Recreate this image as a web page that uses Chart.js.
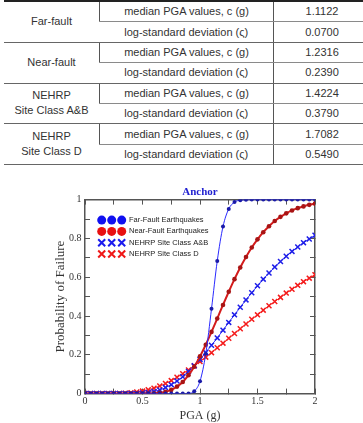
<!DOCTYPE html>
<html lang="en">
<head>
    <meta charset="UTF-8">
    <title>Anchor fragility curves</title>
    <script src="https://cdn.jsdelivr.net/npm/chart.js@4.4.1/dist/chart.umd.min.js"></script>
    <style>
        body {
            margin: 0;
            width: 363px;
            height: 423px;
            overflow: hidden;
            background: #fff;
            position: relative;
            font-family: 'Liberation Sans', Arial, sans-serif;
        }
        .top-rule {
            position: absolute;
            left: 4px;
            top: 0;
            width: 366px;
            height: 2px;
            background: #222;
            z-index: 5;
        }
        .params {
            position: absolute;
            left: 4px;
            top: 2px;
            width: 366px;
            border-collapse: collapse;
            table-layout: fixed;
            font-size: 11px;
            color: #333;
        }
        .params td {
            padding: 0;
            height: 19.4px;
            text-align: center;
            border-bottom: 1px solid #8a8a8a;
            line-height: 15px;
        }
        .params td + td { border-left: 1px solid #555; }
        .params tr:last-child td, .params td.grp { border-bottom-color: #666; }
        .chart-box {
            position: absolute;
            left: 0;
            top: 183px;
            width: 363px;
            height: 240px;
        }
    </style>
</head>
<body>
    <div class="top-rule"></div>
    <table class="params" id="params">
        <colgroup><col style="width:95.5px"><col style="width:174px"><col></colgroup>
        <tbody></tbody>
    </table>

    <div class="chart-box">
        <canvas id="fragility"></canvas>
    </div>

    <script>
        // table values
        const groups = ['Far-fault', 'Near-fault', 'NEHRP<br>Site Class A&amp;B', 'NEHRP<br>Site Class D'];
        const paramNames = ['median PGA values, c (g)', 'log-standard deviation (\u03c2)'];
        const medians = ['1.1122', '1.2316', '1.4224', '1.7082'];
        const logStd = ['0.0700', '0.2390', '0.3790', '0.5490'];

        // chart values
        const pga = [0, 0.05, 0.1, 0.15, 0.2, 0.25, 0.3, 0.35, 0.4, 0.45, 0.5, 0.55, 0.6, 0.65, 0.7, 0.75, 0.8, 0.85, 0.9, 0.95,
                     1, 1.05, 1.1, 1.15, 1.2, 1.25, 1.3, 1.35, 1.4, 1.45, 1.5, 1.55, 1.6, 1.65, 1.7, 1.75, 1.8, 1.85, 1.9, 1.95, 2];
        const farFault = [0, 0, 0, 0, 0, 0, 0, 0, 0, 0, 0, 0, 0, 0, 0, 0, 0, 0,
                          0.001, 0.012, 0.064, 0.205, 0.437, 0.684, 0.861, 0.952, 0.987, 0.997, 0.999,
                          1, 1, 1, 1, 1, 1, 1, 1, 1, 1, 1, 1];
        const nearFault = [0, 0, 0, 0, 0, 0, 0, 0, 0, 0, 0, 0,
                           0.001, 0.004, 0.009, 0.019, 0.036, 0.060, 0.095, 0.139, 0.192, 0.252, 0.318, 0.387, 0.457,
                           0.525, 0.590, 0.650, 0.704, 0.753, 0.795, 0.832, 0.863, 0.890, 0.911, 0.929, 0.944, 0.956,
                           0.965, 0.973, 0.979];
        const siteAB = [0, 0, 0, 0, 0, 0, 0, 0, 0,
                        0.001, 0.003, 0.006, 0.011, 0.019, 0.031, 0.046, 0.065, 0.087, 0.114, 0.143, 0.176, 0.212,
                        0.249, 0.287, 0.327, 0.367, 0.406, 0.445, 0.483, 0.520, 0.556, 0.590, 0.622, 0.652, 0.681,
                        0.708, 0.733, 0.756, 0.778, 0.797, 0.816];
        const siteD = [0, 0, 0, 0, 0, 0,
                       0.001, 0.002, 0.004, 0.008, 0.013, 0.020, 0.028, 0.039, 0.052, 0.067, 0.084, 0.102, 0.122,
                       0.143, 0.165, 0.188, 0.211, 0.236, 0.260, 0.285, 0.310, 0.334, 0.359, 0.383, 0.406, 0.430,
                       0.453, 0.475, 0.496, 0.518, 0.538, 0.558, 0.577, 0.595, 0.613];
        const seriesLabels = ['Far-Fault Earthquakes', 'Near-Fault Earthquakes', 'NEHRP Site Class A&B', 'NEHRP Site Class D'];

        // build the parameter table
        const body = document.querySelector('#params tbody');
        groups.forEach((g, i) => {
            body.insertAdjacentHTML('beforeend',
                `<tr><td rowspan="2" class="grp">${g}</td><td>${paramNames[0]}</td><td>${medians[i]}</td></tr>` +
                `<tr><td class="grp">${paramNames[1]}</td><td class="grp">${logStd[i]}</td></tr>`);
        });

        const serif = "'Liberation Serif', 'Times New Roman', serif";
        const sans = "'Liberation Sans', Arial, sans-serif";
        const toPoints = ys => ys.map((y, i) => ({ x: pga[i], y: y }));

        // legend drawn inside the plot, top left
        const insideLegend = {
            id: 'insideLegend',
            afterDatasetsDraw(chart) {
                const { ctx, chartArea } = chart;
                ctx.save();
                chart.data.datasets.forEach((ds, i) => {
                    const y = chartArea.top + 20.5 + i * 11.3;
                    for (let k = 0; k < 3; k++) {
                        const cx = chartArea.left + 16.7 + k * 10;
                        if (ds.pointStyle === 'circle') {
                            ctx.fillStyle = ds.legendColor;
                            ctx.beginPath();
                            ctx.arc(cx, y, 4.5, 0, Math.PI * 2);
                            ctx.fill();
                        } else {
                            ctx.strokeStyle = ds.legendColor;
                            ctx.lineWidth = 2;
                            ctx.beginPath();
                            ctx.moveTo(cx - 3.5, y - 3.5); ctx.lineTo(cx + 3.5, y + 3.5);
                            ctx.moveTo(cx - 3.5, y + 3.5); ctx.lineTo(cx + 3.5, y - 3.5);
                            ctx.stroke();
                        }
                    }
                    ctx.fillStyle = '#222';
                    ctx.font = `7.5px ${sans}`;
                    ctx.textBaseline = 'middle';
                    ctx.fillText(ds.label, chartArea.left + 44, y);
                });
                ctx.restore();
            }
        };

        const frameGrid = { drawOnChartArea: false, drawTicks: true, tickLength: -5, color: '#555', lineWidth: 1 };
        const frameBorder = { display: true, color: '#555', width: 1.5 };

        new Chart(document.getElementById('fragility'), {
            type: 'line',
            data: {
                datasets: [
                    {
                        label: seriesLabels[0],
                        data: toPoints(farFault),
                        borderColor: '#2a2aff',
                        borderWidth: 1,
                        pointStyle: 'circle',
                        pointRadius: 2,
                        pointBackgroundColor: '#1a1aa8',
                        pointBorderWidth: 0,
                        legendColor: '#1010f0',
                        cubicInterpolationMode: 'monotone'
                    },
                    {
                        label: seriesLabels[1],
                        data: toPoints(nearFault),
                        borderColor: '#d41c1c',
                        borderWidth: 2,
                        pointStyle: 'circle',
                        pointRadius: 2.3,
                        pointBackgroundColor: '#a81414',
                        pointBorderWidth: 0,
                        legendColor: '#e81010',
                        cubicInterpolationMode: 'monotone'
                    },
                    {
                        label: seriesLabels[2],
                        data: toPoints(siteAB),
                        borderColor: '#3a3aff',
                        borderWidth: 1,
                        pointStyle: 'crossRot',
                        pointRadius: 3.5,
                        pointBorderColor: '#1e1ee8',
                        pointBorderWidth: 1.5,
                        legendColor: '#1a1aee',
                        cubicInterpolationMode: 'monotone'
                    },
                    {
                        label: seriesLabels[3],
                        data: toPoints(siteD),
                        borderColor: '#ff3030',
                        borderWidth: 1,
                        pointStyle: 'crossRot',
                        pointRadius: 3.5,
                        pointBorderColor: '#f41c1c',
                        pointBorderWidth: 1.5,
                        legendColor: '#f01818',
                        cubicInterpolationMode: 'monotone'
                    }
                ]
            },
            options: {
                responsive: true,
                maintainAspectRatio: false,
                animation: false,
                layout: { padding: { left: 0, right: 48, top: 0, bottom: 0 } },
                plugins: {
                    legend: { display: false },
                    tooltip: { enabled: false },
                    title: {
                        display: true,
                        text: 'Anchor',
                        color: '#1f1fd0',
                        fullSize: false,
                        font: { family: serif, size: 11, weight: 'bold' },
                        padding: { top: 2.1, bottom: 1.3 }
                    }
                },
                scales: {
                    x: {
                        type: 'linear',
                        position: 'bottom',
                        min: 0, max: 2,
                        grid: frameGrid,
                        border: frameBorder,
                        ticks: {
                            stepSize: 0.25,
                            autoSkip: false,
                            maxRotation: 0,
                            padding: 7,
                            color: '#333',
                            font: { family: serif, size: 10 },
                            callback: v => Math.round(v * 4) % 2 === 0 ? String(Math.round(v * 100) / 100) : ''
                        },
                        title: {
                            display: true,
                            text: 'PGA (g)',
                            color: '#333',
                            font: { family: serif, size: 12 },
                            padding: { top: 0, bottom: 0 }
                        },
                        afterFit: s => { s.height = 29.4; }
                    },
                    y: {
                        type: 'linear',
                        position: 'left',
                        min: 0, max: 1,
                        grid: frameGrid,
                        border: frameBorder,
                        ticks: {
                            stepSize: 0.1,
                            autoSkip: false,
                            padding: 8.5,
                            color: '#333',
                            font: { family: serif, size: 10 },
                            callback: v => Math.round(v * 10) % 2 === 0 ? String(Math.round(v * 10) / 10) : ''
                        },
                        title: {
                            display: true,
                            text: 'Probability of Failure',
                            color: '#333',
                            font: { family: serif, size: 13 },
                            padding: { top: 53, bottom: 0 }
                        },
                        afterFit: s => { s.width = 85; }
                    },
                    x2: {
                        type: 'linear',
                        position: 'top',
                        min: 0, max: 2,
                        grid: frameGrid,
                        border: frameBorder,
                        ticks: { stepSize: 0.25, autoSkip: false, display: false },
                        afterFit: s => { s.height = 0; }
                    },
                    y2: {
                        type: 'linear',
                        position: 'right',
                        min: 0, max: 1,
                        grid: frameGrid,
                        border: frameBorder,
                        ticks: { stepSize: 0.1, autoSkip: false, display: false },
                        afterFit: s => { s.width = 0; }
                    }
                }
            },
            plugins: [insideLegend]
        });
    </script>
</body>
</html>
